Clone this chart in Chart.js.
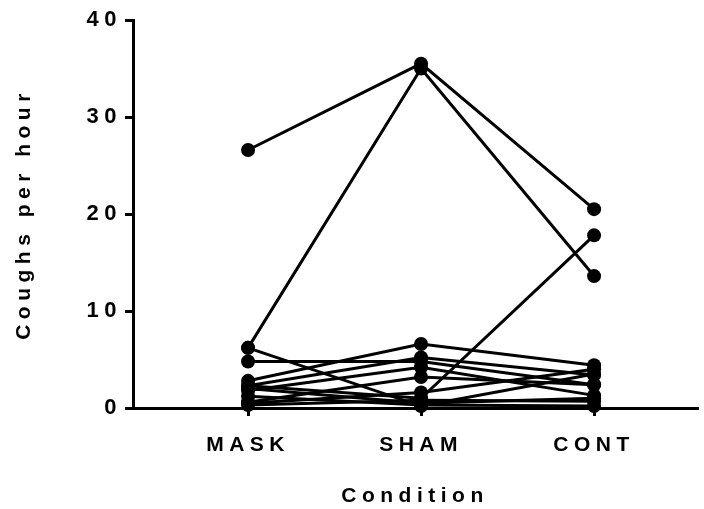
<!DOCTYPE html>
<html>
<head>
<meta charset="utf-8">
<script src="https://cdn.jsdelivr.net/npm/chart.js@4.4.1/dist/chart.umd.min.js"></script>
<style>
html,body{margin:0;padding:0;background:#fff;}
#wrap{width:704px;height:509px;position:relative;}
</style>
</head>
<body>
<div id="wrap"><canvas id="c" width="704" height="509"></canvas></div>
<script>
const categories = ["MASK", "SHAM", "CONT"];
const yTicks = [0, 10, 20, 30, 40];
// values per subject (one entry per subject) for each condition
const mask = [26.6, 6.2, 6.2, 2.3, 4.8, 2.8, 2.3, 1.8, 0.6, 0.3, 1.2, 0.5, 2.0];
const sham = [35.5, 35.0, 0.2, 1.0, 4.8, 6.6, 5.2, 4.2, 3.2, 0.8, 0.3, 1.6, 0.5];
const cont = [20.5, 13.6, 3.5, 17.8, 2.4, 4.4, 3.4, 1.3, 2.4, 0.7, 0.2, 4.0, 1.0];

const datasets = mask.map((m, i) => ({
  data: [m, sham[i], cont[i]].map((v, j) => ({x: j + 1, y: v})),
  borderColor: '#000',
  backgroundColor: '#000',
  borderWidth: 3,
  pointRadius: 7,
  pointHoverRadius: 7,
  pointBorderWidth: 0,
  clip: false,
  showLine: true
}));

const SP = '5.5px';
const spacing = {
  id: 'spacing',
  beforeDraw(chart) { chart.ctx.letterSpacing = SP; },
  beforeUpdate(chart) { chart.ctx.letterSpacing = SP; },
  beforeLayout(chart) { chart.ctx.letterSpacing = SP; }
};

new Chart(document.getElementById('c'), {
  type: 'scatter',
  data: { datasets },
  plugins: [spacing],
  options: {
    responsive: false,
    animation: false,
    events: [],
    layout: { padding: { top: 20, right: 0, left: 0, bottom: 0 } },
    plugins: { legend: { display: false }, tooltip: { enabled: false } },
    scales: {
      x: {
        type: 'linear',
        min: 0.335,
        max: 3.595,
        afterBuildTicks(scale) { scale.ticks = categories.map((c, i) => ({value: i + 1})); },
        afterFit(scale) { scale.height = 101; },
        ticks: {
          callback: (v) => categories[v - 1] || '',
          color: '#000',
          font: { family: 'Liberation Sans', weight: 'bold', size: 21 },
          padding: 17,
          maxRotation: 0,
          autoSkip: false
        },
        grid: { drawOnChartArea: false, drawTicks: true, tickLength: 8, color: '#000', lineWidth: 3 },
        border: { color: '#000', width: 3 },
        title: { display: true, text: 'Condition', color: '#000',
          font: { family: 'Liberation Sans', weight: 'bold', size: 21 }, padding: { top: 0, bottom: 0 } }
      },
      y: {
        min: 0,
        max: 40,
        afterBuildTicks(scale) { scale.ticks = yTicks.map(v => ({value: v})); },
        afterFit(scale) { scale.width = 133; },
        ticks: {
          color: '#000',
          font: { family: 'Liberation Sans', weight: 'bold', size: 22 },
          padding: 3
        },
        grid: { drawOnChartArea: false, drawTicks: true, tickLength: 8, color: '#000', lineWidth: 3 },
        border: { color: '#000', width: 3 },
        title: { display: true, text: 'Coughs per hour', color: '#000',
          font: { family: 'Liberation Sans', weight: 'bold', size: 21 }, padding: { top: 12, bottom: 0 } }
      }
    }
  }
});
</script>
</body>
</html>
